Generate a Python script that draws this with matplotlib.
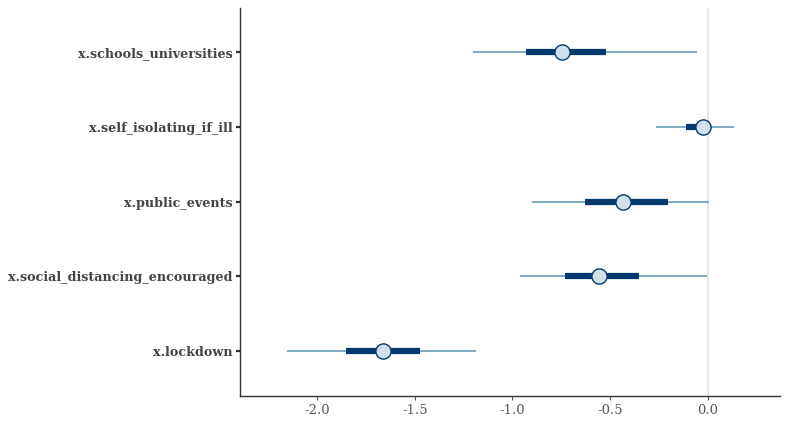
import matplotlib
matplotlib.use("Agg")
import matplotlib.pyplot as plt

# parameters, bottom to top as drawn
params = ["x.lockdown", "x.social_distancing_encouraged", "x.public_events",
          "x.self_isolating_if_ill", "x.schools_universities"]
median = [-1.662, -0.558, -0.435, -0.026, -0.747]
inner_lo = [-1.852, -0.731, -0.629, -0.113, -0.931]
inner_hi = [-1.473, -0.353, -0.205, 0.015, -0.522]
outer_lo = [-2.153, -0.962, -0.900, -0.266, -1.202]
outer_hi = [-1.187, -0.005, 0.005, 0.133, -0.056]
xticks = [-2.0, -1.5, -1.0, -0.5, 0.0]

LIGHT = "#5b93b5"
DARK = "#03396c"
FILL = "#d1e1ec"

fig = plt.figure(figsize=(7.89, 4.24), dpi=100, facecolor="white")
ax = fig.add_axes([0.304, 0.066, 0.6846, 0.915])

ax.axvline(0, color="#e3e3e3", linewidth=1.2, zorder=0)
ypos = list(range(1, len(params) + 1))
ax.hlines(ypos, outer_lo, outer_hi, color=LIGHT, linewidth=1.1, zorder=1)
ax.hlines(ypos, inner_lo, inner_hi, color=DARK, linewidth=4.5, zorder=2)
ax.scatter(median, ypos, s=120, facecolor=FILL, edgecolor=DARK, linewidth=1.0, zorder=3)

ax.set_xlim(-2.394, 0.368)
ax.set_ylim(0.398, 5.588)
ax.set_yticks(ypos)
ax.set_yticklabels(params, family="DejaVu Serif", weight="bold", fontsize=9.2, color="#444444")
ax.set_xticks(xticks)
ax.set_xticklabels([f"{v:.1f}" for v in xticks], family="DejaVu Serif", fontsize=9.5, color="#555555")

for s in ["top", "right"]:
    ax.spines[s].set_visible(False)
for s in ["left", "bottom"]:
    ax.spines[s].set_color("#333333")
    ax.spines[s].set_linewidth(1.0)
ax.tick_params(axis="y", length=3, width=1.6, color="#333333", pad=2)
ax.tick_params(axis="x", length=3, width=0.8, color="#555555", pad=3)

fig.savefig("out.png", dpi=100, facecolor="white")
